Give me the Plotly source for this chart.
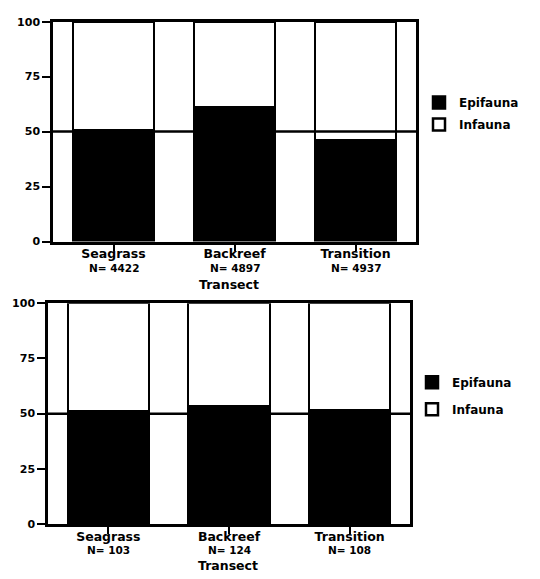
import plotly.graph_objects as go

# ---- data ----
categories = ["Seagrass", "Backreef", "Transition"]
n_top = ["N= 4422", "N= 4897", "N= 4937"]
n_bottom = ["N= 103", "N= 124", "N= 108"]
epifauna_top = [50.5, 61, 46]
infauna_top = [49.5, 39, 54]
epifauna_bottom = [51, 53.5, 51.5]
infauna_bottom = [49, 46.5, 48.5]
y_ticks = [0, 25, 50, 75, 100]
ref_level = 50
x_title = "Transect"

W, H = 540, 579
FONT = "DejaVu Sans"
pos = list(range(len(categories)))

fig = go.Figure()

def add_panel(epi, inf, xa, ya, leg, grp):
    fig.add_trace(go.Bar(
        x=pos, y=epi, name="Epifauna", xaxis=xa, yaxis=ya, width=0.675,
        marker=dict(color="black", line=dict(color="black", width=2.5)),
        legend=leg, legendgroup="e" + grp, hoverinfo="skip"))
    fig.add_trace(go.Bar(
        x=pos, y=inf, name="Infauna", xaxis=xa, yaxis=ya, width=0.675,
        marker=dict(color="white", line=dict(color="black", width=2.5)),
        legend=leg, legendgroup="i" + grp, hoverinfo="skip"))

add_panel(epifauna_top, infauna_top, "x", "y", "legend", "1")
add_panel(epifauna_bottom, infauna_bottom, "x2", "y2", "legend2", "2")

def xax(dom):
    return dict(domain=dom, range=[-0.5, len(categories) - 0.5],
                tickvals=pos, ticktext=categories, ticks="outside",
                ticklen=7, tickwidth=2, tickcolor="black", ticklabelstandoff=-8,
                showline=True, mirror=True, linewidth=2.5, linecolor="black",
                showgrid=False, zeroline=False, fixedrange=True,
                tickfont=dict(family=FONT, size=12.5, color="black", weight="bold"))

def yax(dom):
    return dict(domain=dom, range=[0, 100], tickvals=y_ticks,
                ticks="outside", ticklen=8, tickwidth=2, tickcolor="black",
                showline=True, mirror=True, linewidth=2.5, linecolor="black",
                showgrid=False, zeroline=False, fixedrange=True,
                tickfont=dict(family=FONT, size=11, color="black", weight="bold"))

top_x = [53 / W, 416 / W]
top_y = [1 - 241 / H, 1 - 16 / H]
bot_x = [48 / W, 410 / W]
bot_y = [1 - 530 / H, 1 - 304 / H]

annotations = []
for i, t in enumerate(n_top):
    annotations.append(dict(x=pos[i], xref="x", y=1 - 268 / H, yref="paper",
                            text=t, showarrow=False, yanchor="middle",
                            font=dict(family=FONT, size=10.5, color="black", weight="bold")))
for i, t in enumerate(n_bottom):
    annotations.append(dict(x=pos[i], xref="x2", y=1 - 557 / H, yref="paper",
                            text=t, showarrow=False, yanchor="middle",
                            font=dict(family=FONT, size=10.5, color="black", weight="bold")))
annotations.append(dict(x=229 / W, xref="paper", y=1 - 285 / H, yref="paper",
                        text=x_title, showarrow=False, yanchor="middle",
                        font=dict(family=FONT, size=12.5, color="black", weight="bold")))
annotations.append(dict(x=228 / W, xref="paper", y=1 - 572 / H, yref="paper",
                        text=x_title, showarrow=False, yanchor="middle",
                        font=dict(family=FONT, size=12.5, color="black", weight="bold")))

shapes = [
    dict(type="line", xref="x domain", yref="y", x0=0, x1=1, y0=ref_level, y1=ref_level,
         line=dict(color="black", width=2.5), layer="above"),
    dict(type="line", xref="x2 domain", yref="y2", x0=0, x1=1, y0=ref_level, y1=ref_level,
         line=dict(color="black", width=2.5), layer="above"),
]

legfont = dict(family=FONT, size=12, color="black", weight="bold")
fig.update_layout(
    width=W, height=H, margin=dict(l=0, r=0, t=0, b=0),
    paper_bgcolor="white", plot_bgcolor="white",
    barmode="stack", bargap=0,
    xaxis=dict(anchor="y", **xax(top_x)),
    yaxis=dict(anchor="x", **yax(top_y)),
    xaxis2=dict(anchor="y2", **xax(bot_x)),
    yaxis2=dict(anchor="x2", **yax(bot_y)),
    legend=dict(x=419 / W, y=1 - 84 / H, xanchor="left", yanchor="top",
                traceorder="grouped", tracegroupgap=3, font=legfont,
                bgcolor="rgba(0,0,0,0)"),
    legend2=dict(x=412 / W, y=1 - 370 / H, xanchor="left", yanchor="top",
                 traceorder="grouped", tracegroupgap=8, font=legfont,
                 bgcolor="rgba(0,0,0,0)"),
    annotations=annotations, shapes=shapes,
)

fig.write_html("out.html")
